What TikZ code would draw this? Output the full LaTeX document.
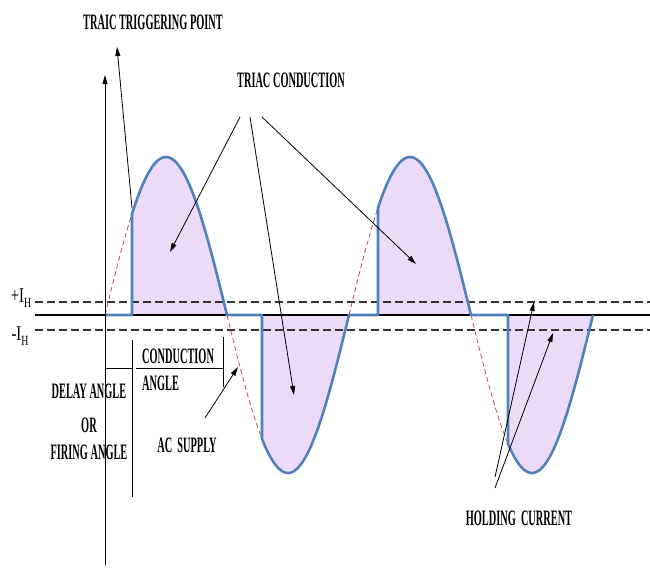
\documentclass[tikz,border=0pt]{standalone}
\usepackage{fontspec}
\setmainfont{Liberation Serif}
\usetikzlibrary{arrows.meta}
\definecolor{wave}{HTML}{4F81BD}
\definecolor{lav}{HTML}{ECDBF8}
\definecolor{acred}{HTML}{C0504D}
\definecolor{ihgray}{HTML}{333333}
\newcommand\wy[1]{315-158*sin(((#1)-105)*1.47541)}
\newcommand\mylab[2][c]{\scalebox{0.47}[1]{\fontsize{22}{26}\selectfont\bfseries\begin{tabular}{@{}#1@{}}#2\end{tabular}}}
\newcommand\ihlab[1]{\scalebox{0.7}[1]{\fontsize{21}{24}\selectfont #1I\raisebox{-4.5pt}{\fontsize{14}{14}\selectfont H}}}
\begin{document}
\begin{tikzpicture}[x=1pt,y=-1pt,
  lobe/.style={fill=lav},
  ihline/.style={draw=ihgray,line width=1.8pt,dash pattern=on 8pt off 4pt},
  zeroline/.style={draw=black,line width=1.1pt},
  acdash/.style={draw=acred,line width=0.8pt,dash pattern=on 5pt off 3pt},
  wavepath/.style={draw=wave,line width=2.6pt,line join=round},
  guide/.style={draw=black,line width=0.8pt},
  arr/.style={draw=black,line width=0.8pt,-{Triangle[length=9pt,width=5pt]}},
  lbl/.style={inner sep=0pt}]
\useasboundingbox (0,0) rectangle (650,568);
% conduction lobes
\fill[lobe] (132,315) -- plot[domain=132:227,samples=60] (\x,{\wy{\x}}) -- cycle;
\fill[lobe] (262,315) -- plot[domain=262:349,samples=60] (\x,{\wy{\x}}) -- cycle;
\fill[lobe] (378,315) -- plot[domain=378:471,samples=60] (\x,{\wy{\x}}) -- cycle;
\fill[lobe] (508,315) -- plot[domain=508:593,samples=60] (\x,{\wy{\x}}) -- cycle;
% holding current levels and zero line
\draw[ihline] (35,302) -- (650,302);
\draw[ihline] (35,330) -- (650,330);
\draw[zeroline] (35,315) -- (650,315);
% AC supply (non-conducting parts)
\draw[acdash] plot[domain=105:132,samples=20] (\x,{\wy{\x}});
\draw[acdash] plot[domain=227:262,samples=20] (\x,{\wy{\x}});
\draw[acdash] plot[domain=349:378,samples=20] (\x,{\wy{\x}});
\draw[acdash] plot[domain=471:508,samples=20] (\x,{\wy{\x}});
% triac current
\draw[wavepath] (105,315) -- (132,315)
  -- plot[domain=132:227,samples=60] (\x,{\wy{\x}}) -- (262,315)
  -- plot[domain=262:349,samples=60] (\x,{\wy{\x}}) -- (378,315)
  -- plot[domain=378:471,samples=60] (\x,{\wy{\x}}) -- (508,315)
  -- plot[domain=508:593,samples=60] (\x,{\wy{\x}});
% axis and angle guides
\draw[arr] (105,565) -- (105,75);
\draw[guide] (132,340) -- (132,497);
\draw[guide] (105,368) -- (132,368);
\draw[guide] (136,368) -- (223,368);
\draw[guide] (223,337) -- (223,387);
% labels
\node[lbl] (trig) at (153,24) {\mylab{TRAIC TRIGGERING POINT}};
\node[lbl] (cond) at (291,82.5) {\mylab{TRIAC CONDUCTION}};
\node[lbl] (pih) at (21,298) {\ihlab{+}};
\node[lbl] (mih) at (20,336) {\ihlab{-}};
\node[lbl,anchor=north west] (cangle) at (142,345.1) {\mylab[l]{CONDUCTION\\[1pt]ANGLE}};
\node[lbl,anchor=north] (delay) at (89,380.1) {\mylab{DELAY ANGLE\\[8pt]OR\\[1pt]FIRING ANGLE}};
\node[lbl] (ac) at (187,447) {\mylab{AC\ \ SUPPLY}};
\node[lbl] (hold) at (519,520) {\mylab{HOLDING\ \ CURRENT}};
% arrow end points
\coordinate (fire) at (132,208);
\coordinate (trigtip) at (117,47);
\coordinate (c1) at (240,117);
\coordinate (c2) at (250,117);
\coordinate (c3) at (262,117);
\coordinate (l1) at (170,252);
\coordinate (l2) at (294,395);
\coordinate (l3) at (416,264);
\coordinate (actail) at (205,418);
\coordinate (actip) at (238,367);
\coordinate (h1) at (495,477);
\coordinate (h2) at (495,488);
\coordinate (ph) at (534,302);
\coordinate (mh) at (553,333);
% arrows
\draw[arr] (fire) -- (trigtip);
\draw[arr] (c1) -- (l1);
\draw[arr] (c2) -- (l2);
\draw[arr] (c3) -- (l3);
\draw[arr] (actail) -- (actip);
\draw[arr] (h1) -- (ph);
\draw[arr] (h2) -- (mh);
\end{tikzpicture}
\end{document}
